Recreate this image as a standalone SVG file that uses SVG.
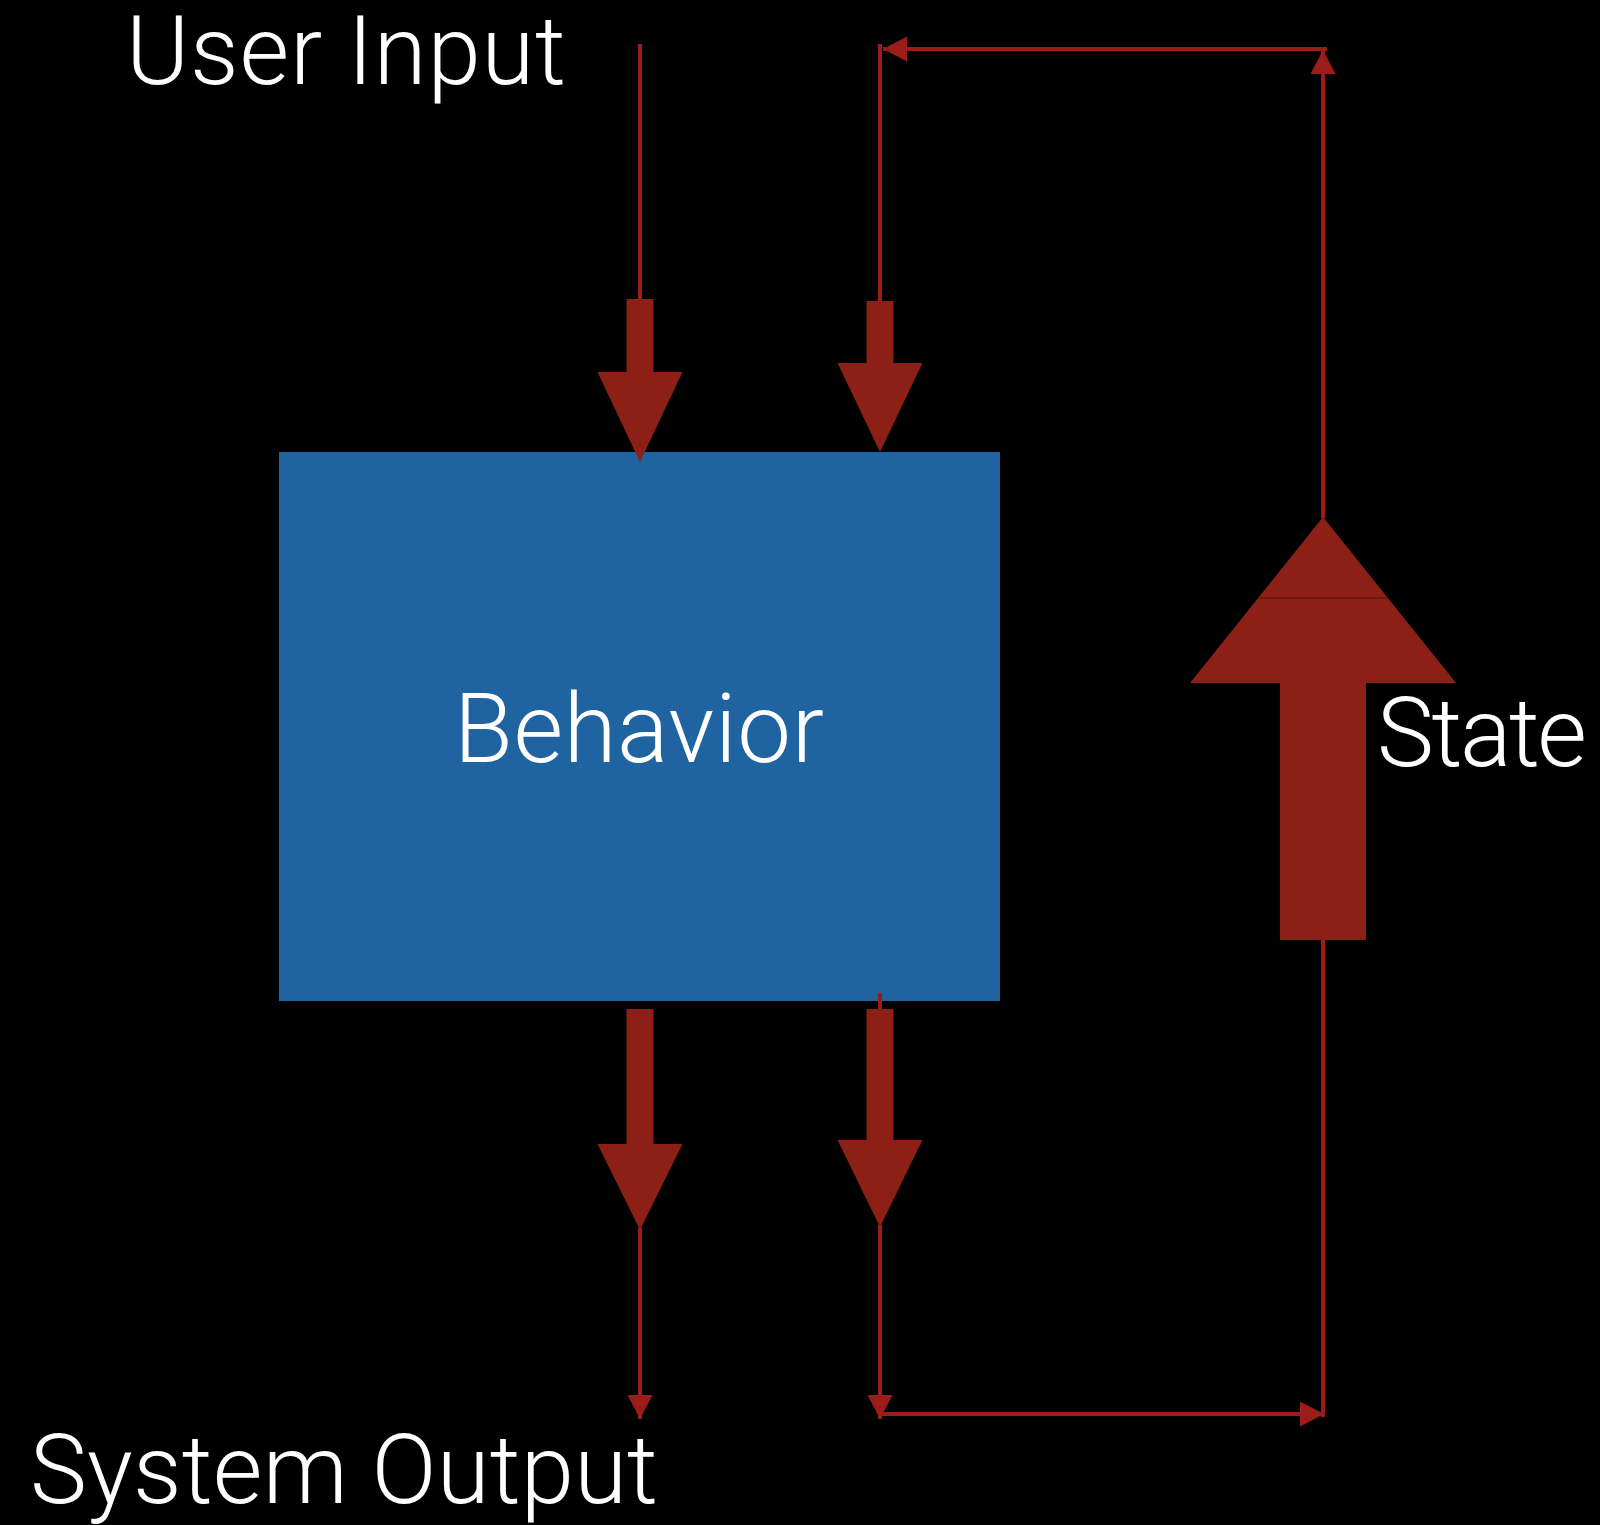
<svg xmlns="http://www.w3.org/2000/svg" width="1600" height="1525" viewBox="0 0 1600 1525">
  <defs>
    <style>
      .label { font-family: Roboto, "Liberation Sans", Arial, sans-serif; font-weight: 300; font-size: 96px; fill: #ffffff; }
      .wire { stroke: #9c1c1a; stroke-width: 4; fill: none; }
      .block { fill: #8d2016; }
      .seam { stroke: #651810; stroke-width: 1.5; }
    </style>
    <marker id="head" markerUnits="userSpaceOnUse" markerWidth="26" markerHeight="26" refX="24" refY="12.5" orient="auto">
      <path d="M0,0 L24,12.5 L0,25 z" fill="#9c1c1a"/>
    </marker>
  </defs>

  <rect width="1600" height="1525" fill="#000000"/>

  <!-- central processing box -->
  <g id="behavior">
    <rect x="279" y="452" width="721" height="549" fill="#1f64a0"/>
    <text class="label" x="454" y="762" textLength="370">Behavior</text>
  </g>

  <g id="user-input">
    <text class="label" x="126" y="84" textLength="440">User Input</text>
  </g>

  <g id="system-output">
    <text class="label" x="30" y="1503" textLength="628">System Output</text>
  </g>

  <g id="state">
    <text class="label" x="1377" y="766" textLength="210">State</text>
  </g>

  <g id="connectors">
    <!-- thin wires -->
    <line class="wire" x1="640" y1="44" x2="640" y2="300"/>
    <line class="wire" x1="880" y1="44" x2="880" y2="302"/>
    <line class="wire" x1="1323" y1="518" x2="1323" y2="50" marker-end="url(#head)"/>
    <line class="wire" x1="1327" y1="49" x2="883" y2="49" marker-end="url(#head)"/>
    <line class="wire" x1="880" y1="993" x2="880" y2="1010"/>
    <line class="wire" x1="640" y1="1228" x2="640" y2="1419" marker-end="url(#head)"/>
    <line class="wire" x1="880" y1="1225" x2="880" y2="1419" marker-end="url(#head)"/>
    <line class="wire" x1="880" y1="1414" x2="1324" y2="1414" marker-end="url(#head)"/>
    <line class="wire" x1="1323" y1="1417" x2="1323" y2="938"/>

    <!-- block arrows into the box -->
    <polygon class="block" points="626.5,299 653.5,299 653.5,372 682.5,372 640,462 597.5,372 626.5,372"/>
    <polygon class="block" points="866.5,301 893.5,301 893.5,363 922.5,363 880,452 837.5,363 866.5,363"/>

    <!-- block arrows out of the box -->
    <polygon class="block" points="626.5,1009 653.5,1009 653.5,1144 682.5,1144 640,1230 597.5,1144 626.5,1144"/>
    <polygon class="block" points="866.5,1009 893.5,1009 893.5,1140 922.5,1140 880,1227 837.5,1140 866.5,1140"/>

    <!-- state feedback arrow -->
    <polygon class="block" points="1280,940 1366,940 1366,683 1456,683 1323,517 1190,683 1280,683"/>
    <line class="seam" x1="1258" y1="598" x2="1388" y2="598"/>
  </g>
</svg>
